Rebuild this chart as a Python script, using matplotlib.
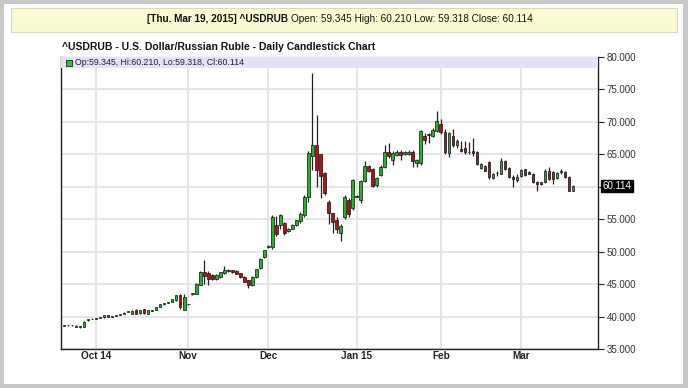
import matplotlib
matplotlib.use("Agg")
import matplotlib.pyplot as plt
from matplotlib.patches import Rectangle
import numpy as np
import pandas as pd

plt.rcParams['font.family'] = ['Liberation Sans', 'DejaVu Sans']

# ---- data ----
dates = [d for d in pd.bdate_range("2014-09-19", "2015-03-19")
         if d not in (pd.Timestamp("2014-12-25"), pd.Timestamp("2015-01-01"))]

opens = [38.60, 38.65, 38.68, 38.62, 38.48, 38.40, 39.40, 39.60, 39.70, 39.78,
         39.90, 40.20, 40.00, 40.10, 40.28, 40.40, 40.70, 40.40, 41.00, 40.50,
         41.10, 40.40, 40.90, 41.00, 41.50, 41.90, 42.10, 42.30, 42.50, 43.30,
         41.00, 41.90, 43.40, 43.55, 44.85, 46.80, 46.65, 46.40, 45.80, 46.05,
         46.65, 47.25, 47.10, 47.00, 46.65, 46.15, 45.60, 44.85, 46.10, 47.50,
         49.20, 50.70, 50.70, 54.07, 54.07, 54.40, 53.20, 53.55, 54.07, 54.68,
         55.60, 58.46, 64.70, 66.50, 65.00, 62.10, 57.70, 55.90, 54.84, 52.80,
         55.36, 58.00, 56.70, 58.60, 58.00, 60.90, 63.20, 62.70, 60.20, 61.80,
         63.10, 65.35, 64.20, 64.90, 65.40, 65.10, 65.10, 65.30, 63.65, 63.65,
         67.90, 68.00, 67.90, 68.55, 69.60, 68.40, 65.20, 67.90, 66.40, 65.80,
         65.90, 65.35, 65.50, 65.35, 62.90, 63.20, 63.80, 61.30, 62.05, 62.00,
         63.90, 62.87, 61.55, 61.10, 61.60, 62.70, 62.30, 61.90, 60.80, 60.75,
         60.70, 62.40, 62.35, 61.30, 62.35, 62.35, 61.57, 59.345]
highs = [38.70, 38.72, 38.75, 38.68, 38.55, 39.25, 39.70, 39.75, 39.78, 39.95,
         40.25, 40.28, 40.15, 40.25, 40.45, 40.65, 40.90, 40.95, 41.10, 41.05,
         41.20, 41.05, 41.05, 41.45, 41.95, 42.10, 42.25, 42.70, 43.35, 43.55,
         43.45, 41.95, 43.70, 45.10, 47.00, 48.75, 47.00, 46.60, 46.50, 46.90,
         47.85, 47.40, 47.20, 47.10, 46.75, 46.25, 45.70, 46.20, 47.40, 49.00,
         50.30, 51.00, 55.60, 55.50, 55.88, 54.60, 53.60, 54.30, 54.95, 56.10,
         58.70, 65.50, 77.60, 71.00, 65.10, 62.30, 57.90, 56.00, 55.30, 54.20,
         58.70, 58.30, 61.20, 58.75, 61.00, 63.90, 63.40, 62.90, 61.50, 63.30,
         66.50, 66.75, 65.50, 65.60, 65.70, 65.50, 65.70, 65.70, 64.30, 68.80,
         68.30, 68.30, 69.00, 71.66, 70.40, 68.90, 68.50, 68.90, 67.30, 67.00,
         67.00, 66.90, 67.50, 65.50, 63.70, 63.30, 63.90, 62.10, 62.50, 64.40,
         64.10, 63.00, 61.80, 61.90, 62.80, 62.80, 62.40, 62.10, 60.85, 60.80,
         62.76, 63.10, 62.50, 62.30, 62.70, 62.50, 61.60, 60.21]
lows = [38.55, 38.58, 38.60, 38.35, 38.28, 38.35, 39.35, 39.55, 39.62, 39.72,
        39.85, 39.90, 39.95, 40.05, 40.22, 40.35, 40.65, 40.35, 40.35, 40.45,
        40.45, 40.35, 40.85, 40.95, 41.45, 41.85, 42.05, 42.25, 42.45, 41.10,
        40.95, 41.85, 43.30, 43.50, 44.80, 45.00, 44.90, 45.70, 45.70, 45.95,
        46.60, 46.85, 46.70, 46.50, 45.95, 45.35, 44.40, 44.70, 46.00, 47.40,
        49.10, 50.60, 50.45, 52.40, 53.55, 52.60, 53.00, 53.45, 53.95, 54.40,
        55.30, 57.70, 62.60, 60.00, 58.20, 58.70, 54.33, 52.94, 52.90, 51.70,
        55.10, 55.40, 56.40, 58.35, 57.50, 60.70, 62.30, 60.00, 60.00, 61.60,
        62.90, 64.50, 63.40, 64.70, 64.20, 64.90, 64.90, 63.10, 63.10, 63.40,
        66.60, 66.70, 67.70, 68.40, 68.20, 65.00, 64.60, 66.20, 66.00, 65.30,
        65.10, 65.00, 64.80, 63.40, 62.70, 62.40, 61.20, 61.20, 61.70, 61.90,
        62.60, 61.40, 59.90, 60.80, 61.50, 61.70, 61.90, 60.54, 59.40, 60.30,
        60.60, 61.00, 60.43, 61.20, 62.00, 61.30, 59.30, 59.318]
closes = [38.65, 38.68, 38.66, 38.40, 38.32, 39.20, 39.60, 39.70, 39.72, 39.90,
          40.20, 39.95, 40.10, 40.20, 40.40, 40.60, 40.85, 40.90, 40.40, 41.00,
          40.50, 41.00, 41.00, 41.40, 41.90, 42.05, 42.20, 42.65, 43.30, 41.40,
          43.05, 41.92, 43.60, 45.00, 46.80, 46.30, 45.80, 45.80, 46.40, 46.80,
          47.25, 46.95, 46.80, 46.60, 46.05, 45.40, 44.85, 46.10, 47.30, 48.90,
          50.20, 50.90, 55.35, 52.78, 55.60, 52.80, 53.50, 54.17, 54.84, 55.78,
          58.46, 65.20, 66.50, 62.60, 61.60, 59.00, 55.90, 54.60, 53.55, 53.90,
          58.46, 55.80, 61.00, 58.50, 60.90, 63.20, 62.50, 60.10, 61.30, 63.10,
          65.35, 64.70, 65.20, 65.40, 64.90, 65.30, 65.40, 63.90, 64.15, 68.55,
          67.20, 68.10, 68.80, 70.10, 68.40, 65.30, 68.30, 66.50, 67.00, 65.55,
          65.40, 65.36, 65.25, 63.55, 63.50, 62.50, 61.50, 61.95, 62.10, 63.90,
          62.76, 61.50, 61.20, 61.50, 62.60, 61.83, 62.00, 60.80, 60.50, 60.45,
          62.50, 61.20, 61.20, 62.20, 62.35, 61.47, 59.40, 60.114]

month_labels = ["Oct 14", "Nov", "Dec", "Jan 15", "Feb", "Mar"]
y_ticks = [35, 40, 45, 50, 55, 60, 65, 70, 75, 80]

# ---- figure ----
W, H = 688, 388
fig = plt.figure(figsize=(W / 100, H / 100), dpi=100)
fig.patch.set_facecolor('#c8c8c8')
fig.add_artist(Rectangle((4 / W, 1 - 384 / H), (683 - 4) / W, (384 - 4) / H,
                         transform=fig.transFigure, facecolor='white',
                         edgecolor='none', zorder=0))
fig.add_artist(Rectangle((11 / W, 1 - 32 / H), (677 - 11) / W, 24 / H,
                         transform=fig.transFigure, facecolor='#fbfbd3',
                         edgecolor='#d9d9b5', lw=0.8, zorder=1))

last = len(closes) - 1
fig.text(288 / W, 1 - 19.5 / H, "[Thu. Mar 19, 2015] ^USDRUB", ha='right',
         va='center', fontsize=7.2, fontweight='bold', color='#111111')
fig.text(291 / W, 1 - 19.5 / H,
         "Open: %.3f High: %.3f Low: %.3f Close: %.3f" % (opens[last], highs[last], lows[last], closes[last]),
         ha='left', va='center', fontsize=7.2, color='#111111')
fig.text(62 / W, 1 - 47 / H,
         "^USDRUB - U.S. Dollar/Russian Ruble - Daily Candlestick Chart",
         ha='left', va='center', fontsize=7.5, fontweight='bold', color='#111111')

ax = fig.add_axes([61 / W, 1 - 349 / H, (598 - 61) / W, (349 - 57) / H])
ax.set_facecolor('white')

x = np.arange(len(closes))
o = np.array(opens); h = np.array(highs); l = np.array(lows); c = np.array(closes)
up = c >= o
green = '#24b424'
red = '#b01414'

ax.vlines(x, l, h, color='#222222', lw=0.9, zorder=3)
bw = 0.66
bottoms = np.minimum(o, c)
heights = np.maximum(np.abs(c - o), 0.06)
ax.bar(x[up], heights[up], bw, bottom=bottoms[up], color=green,
       edgecolor='#111111', linewidth=0.5, zorder=4)
ax.bar(x[~up], heights[~up], bw, bottom=bottoms[~up], color=red,
       edgecolor='#111111', linewidth=0.5, zorder=4)

ax.set_ylim(35, 80)
ax.set_xlim(-0.72, 133.2)

# month ticks at first trading day of each month
month_pos = []
prev = None
for i, d in enumerate(dates):
    if prev is not None and d.month != prev:
        month_pos.append(i)
    prev = d.month
ax.set_xticks(month_pos)
ax.set_xticklabels(month_labels, fontsize=7.2, fontweight='bold', color='#222222')
ax.tick_params(axis='x', length=0, pad=1.5)

ax.yaxis.tick_right()
ax.set_yticks(y_ticks)
# the 60.000 label is covered by the last-price tag in the reference
ax.set_yticklabels(["" if v == 60 else "%.3f" % v for v in y_ticks],
                   fontsize=7.0, color='#333333')
ax.tick_params(axis='y', length=4, width=0.8, pad=2, color='#222222')

ax.grid(True, color='#e3e3e3', lw=1.3, zorder=0)
ax.set_axisbelow(True)
for s in ['left', 'bottom', 'right']:
    ax.spines[s].set_color('#222222')
    ax.spines[s].set_linewidth(1.0)
ax.spines['top'].set_color('#222222')
ax.spines['top'].set_linewidth(0.8)

# legend band
band_h = 11 / 292
ax.add_patch(Rectangle((0, 1 - band_h), 1, band_h, transform=ax.transAxes,
                       facecolor='#e2e2fa', edgecolor='none', zorder=5))
ax.add_patch(Rectangle((5 / 537, 1 - 8.5 / 292), 6 / 537, 6 / 292,
                       transform=ax.transAxes, facecolor='#22cc22',
                       edgecolor='#222222', lw=0.6, zorder=6))
ax.text(14 / 537, 1 - 5.5 / 292,
        "Op:%.3f, Hi:%.3f, Lo:%.3f, Cl:%.3f" % (opens[last], highs[last], lows[last], closes[last]),
        transform=ax.transAxes, fontsize=6.3, va='center', ha='left',
        color='#222222', zorder=7)

# last price tag
ax.text(1.0 + 4.5 / 537, closes[last], "%.3f" % closes[last],
        transform=ax.get_yaxis_transform(), fontsize=7.0, color='white',
        va='center', ha='left',
        bbox=dict(boxstyle='square,pad=0.12', facecolor='black', edgecolor='black'),
        zorder=8, clip_on=False)

fig.savefig("out.png", dpi=100, facecolor=fig.get_facecolor())
